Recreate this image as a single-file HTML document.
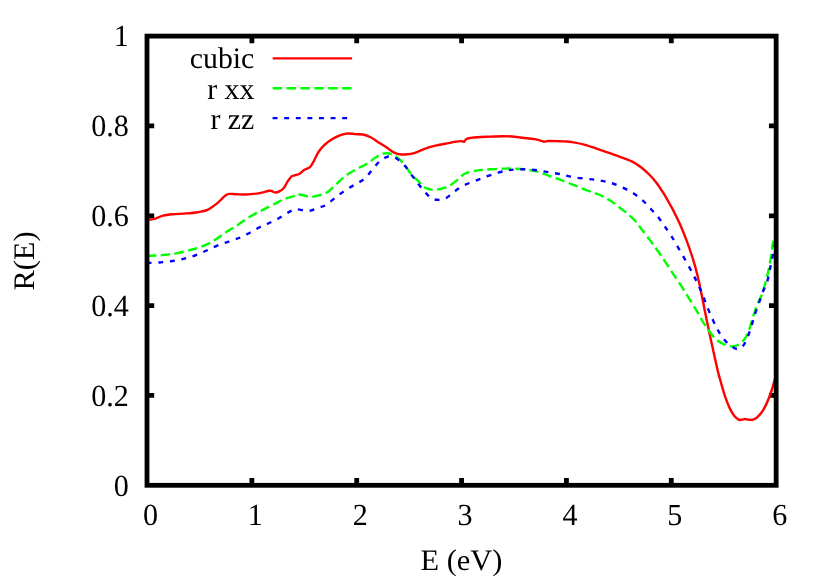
<!DOCTYPE html>
<html lang="en"><head><meta charset="utf-8"><title>R(E)</title>
<style>html,body{margin:0;padding:0;background:#fff;}svg{display:block;will-change:transform;}text{font-family:"Liberation Serif",serif;font-size:30.4px;fill:#000;text-rendering:geometricPrecision;}</style>
</head><body>
<svg width="830" height="581" viewBox="0 0 830 581">
<rect width="830" height="581" fill="#fff"/>
<path d="M251.86,485.30v-7.2M251.86,36.10v7.2M356.72,485.30v-7.2M356.72,36.10v7.2M461.57,485.30v-7.2M461.57,36.10v7.2M566.43,485.30v-7.2M566.43,36.10v7.2M671.29,485.30v-7.2M671.29,36.10v7.2M147.00,395.46h7.2M776.15,395.46h-7.2M147.00,305.62h7.2M776.15,305.62h-7.2M147.00,215.78h7.2M776.15,215.78h-7.2M147.00,125.94h7.2M776.15,125.94h-7.2" stroke="#000" stroke-width="4.8" fill="none"/>
<path d="M146.8,220.0C147.3,219.9 148.2,219.9 149.6,219.7C151.0,219.5 153.2,219.3 155.4,218.6C157.7,217.9 160.2,216.4 163.1,215.7C166.0,215.0 168.9,214.7 172.8,214.3C176.7,213.9 182.1,213.8 186.3,213.4C190.5,213.1 194.3,212.8 197.8,212.2C201.3,211.6 204.3,211.3 207.5,209.8C210.7,208.3 214.2,205.7 217.1,203.4C220.0,201.1 222.8,197.6 224.8,196.0C226.8,194.4 227.3,194.2 229.2,193.9C231.1,193.6 233.6,194.2 236.4,194.3C239.2,194.4 242.2,194.7 246.0,194.5C249.8,194.3 255.6,193.7 259.5,193.1C263.4,192.5 267.1,191.1 269.2,190.8C271.3,190.5 271.1,190.9 272.0,191.2C272.9,191.5 273.8,192.3 274.9,192.4C276.0,192.5 277.4,192.3 278.8,191.6C280.2,190.9 282.2,190.0 283.6,188.3C285.1,186.6 286.2,183.5 287.5,181.6C288.8,179.7 290.1,177.8 291.3,176.7C292.5,175.6 293.2,175.8 294.5,175.3C295.8,174.9 297.7,174.9 299.3,174.0C300.9,173.1 302.3,171.2 304.1,170.1C305.9,169.0 308.3,168.6 309.9,167.2C311.5,165.8 312.2,164.0 313.7,161.4C315.1,158.8 316.8,154.5 318.6,151.8C320.4,149.1 322.1,147.2 324.3,145.1C326.5,143.0 329.4,140.9 332.0,139.3C334.6,137.7 337.2,136.4 339.8,135.4C342.4,134.4 344.9,133.7 347.5,133.5C350.1,133.3 352.6,133.9 355.2,134.1C357.8,134.3 360.3,134.0 362.9,134.5C365.5,135.0 368.0,136.0 370.6,137.3C373.2,138.6 375.7,140.6 378.3,142.2C380.9,143.8 383.4,145.3 386.0,147.0C388.6,148.7 391.4,151.2 393.7,152.4C395.9,153.6 397.2,154.0 399.5,154.3C401.8,154.6 404.6,154.6 407.2,154.3C409.8,154.1 412.0,153.7 414.9,152.8C417.8,151.9 421.2,150.0 424.6,148.8C428.0,147.6 432.0,146.5 435.4,145.7C438.8,144.9 441.9,144.4 445.1,143.8C448.3,143.2 452.0,142.4 454.7,141.9C457.4,141.4 459.8,141.1 461.4,141.1C462.9,141.1 463.0,142.2 464.0,141.8C465.0,141.4 464.9,139.4 467.2,138.6C469.5,137.8 473.8,137.5 477.8,137.2C481.8,136.9 487.1,136.8 491.3,136.6C495.5,136.4 499.4,136.2 502.9,136.2C506.4,136.2 509.3,136.2 512.5,136.5C515.7,136.8 518.7,137.4 522.2,137.8C525.7,138.2 530.8,138.6 533.7,139.0C536.6,139.4 537.9,139.9 539.6,140.3C541.3,140.8 542.5,141.6 543.9,141.7C545.3,141.8 546.0,141.1 548.1,141.0C550.2,140.9 553.9,141.0 556.5,141.1C559.1,141.2 561.4,141.2 564.0,141.4C566.6,141.6 568.7,141.5 572.2,142.1C575.7,142.7 580.7,143.6 585.1,144.8C589.5,146.0 594.1,147.8 598.6,149.3C603.1,150.8 607.8,152.4 612.0,153.9C616.2,155.4 620.2,156.8 623.6,158.1C627.0,159.4 629.4,160.1 632.3,161.6C635.2,163.1 638.3,165.1 641.0,167.2C643.7,169.3 646.1,171.4 648.7,174.0C651.3,176.6 653.8,179.3 656.4,182.7C659.0,186.1 661.5,190.0 664.1,194.2C666.7,198.4 670.2,205.0 671.8,207.7C673.3,210.4 672.0,207.8 673.4,210.6C674.8,213.4 677.9,219.5 680.1,224.5C682.3,229.5 684.6,235.2 686.7,240.8C688.8,246.4 690.9,252.4 692.7,258.2C694.5,264.0 696.1,269.7 697.5,275.5C698.9,281.3 700.1,287.1 701.3,292.9C702.5,298.7 703.4,303.9 704.7,310.2C706.0,316.5 707.4,323.2 708.9,330.5C710.4,337.8 712.5,347.1 714.0,354.1C715.5,361.1 717.0,367.7 718.2,372.6C719.4,377.5 720.0,379.1 721.2,383.3C722.4,387.5 724.0,393.5 725.5,397.7C727.0,401.9 728.4,405.6 729.9,408.6C731.4,411.6 732.8,414.0 734.2,415.8C735.7,417.6 737.3,419.1 738.6,419.7C739.9,420.3 740.7,419.7 741.8,419.6C742.9,419.5 744.0,419.0 745.1,419.0C746.2,419.0 747.4,419.6 748.7,419.7C750.0,419.8 751.6,420.1 753.0,419.7C754.4,419.3 755.8,418.4 757.3,417.2C758.8,415.9 760.2,414.2 761.7,412.2C763.2,410.1 764.7,407.5 766.0,404.9C767.3,402.2 768.5,399.2 769.6,396.3C770.7,393.4 771.7,390.1 772.5,387.6C773.3,385.1 773.7,383.0 774.3,381.1C774.9,379.2 775.7,376.9 776.0,376.0" fill="none" stroke="#ff0000" stroke-width="2.4" stroke-linejoin="round"/>
<path d="M146.8,255.9C147.3,255.9 147.5,255.9 149.6,255.8C151.7,255.7 156.1,255.6 159.3,255.4C162.5,255.2 165.7,254.8 168.9,254.4C172.1,254.0 174.4,253.8 178.6,252.9C182.8,252.0 189.2,250.4 194.0,249.0C198.8,247.6 203.7,246.0 207.5,244.2C211.3,242.4 213.9,240.5 217.1,238.4C220.3,236.3 223.5,233.8 226.7,231.7C229.9,229.6 233.2,228.0 236.4,225.9C239.6,223.8 242.8,221.3 246.0,219.2C249.2,217.1 252.5,215.2 255.7,213.4C258.9,211.6 262.1,210.2 265.3,208.6C268.5,207.0 271.7,205.3 274.9,203.7C278.1,202.1 281.4,200.2 284.6,198.9C287.8,197.6 292.1,196.8 294.2,196.0C296.3,195.2 295.8,194.3 297.3,194.2C298.8,194.1 300.9,194.9 303.1,195.3C305.3,195.7 307.8,196.8 310.4,196.8C313.0,196.8 315.8,196.1 318.6,195.3C321.4,194.6 324.3,194.1 327.2,192.3C330.1,190.5 332.8,187.3 335.9,184.6C338.9,181.9 342.1,178.5 345.5,175.9C348.9,173.3 353.0,171.1 356.4,169.2C359.8,167.3 362.8,166.2 366.0,164.3C369.2,162.4 373.0,159.3 375.5,157.6C378.0,155.9 379.1,155.0 380.9,154.3C382.6,153.6 384.2,153.2 386.0,153.2C387.8,153.2 389.9,153.4 391.8,154.1C393.7,154.8 395.7,156.0 397.6,157.6C399.5,159.2 401.1,160.7 403.4,163.4C405.6,166.1 408.5,170.9 411.1,174.0C413.7,177.1 416.4,179.3 418.8,181.7C421.2,184.0 423.7,186.8 425.8,188.1C427.9,189.4 429.2,189.4 431.6,189.6C434.0,189.8 437.4,189.6 440.3,189.0C443.2,188.4 446.1,187.5 448.8,186.1C451.5,184.7 454.3,182.3 456.7,180.4C459.1,178.5 461.2,176.1 463.4,174.6C465.6,173.1 467.4,172.4 470.0,171.7C472.6,171.0 475.4,170.7 479.0,170.3C482.6,169.9 487.0,169.5 491.3,169.2C495.6,168.9 500.6,168.7 504.8,168.6C509.0,168.5 512.5,168.6 516.4,168.8C520.3,169.0 524.5,169.3 528.0,169.8C531.5,170.3 534.4,170.8 537.6,171.7C540.8,172.6 544.0,174.1 547.2,175.2C550.4,176.3 553.4,177.2 556.9,178.5C560.4,179.8 563.7,181.1 568.4,182.9C573.1,184.8 580.1,187.7 585.1,189.6C590.1,191.5 594.4,192.7 598.6,194.5C602.8,196.3 606.6,198.4 610.1,200.6C613.6,202.8 616.6,205.2 619.8,207.7C623.0,210.2 626.5,212.8 629.4,215.4C632.3,218.0 635.1,220.8 637.1,223.1C639.1,225.4 639.2,226.2 641.6,229.3C644.0,232.4 648.0,237.5 651.2,241.8C654.4,246.1 657.6,250.6 660.8,255.3C664.0,260.0 667.3,265.0 670.5,269.8C673.7,274.6 676.9,279.2 680.1,284.2C683.3,289.2 686.9,294.9 689.8,299.6C692.7,304.3 695.3,308.5 697.5,312.2C699.7,315.9 701.4,319.3 702.9,321.8C704.4,324.3 704.5,324.5 706.4,327.1C708.2,329.7 711.5,334.5 714.0,337.2C716.5,339.9 719.1,341.6 721.6,343.1C724.1,344.6 727.1,345.5 729.2,346.0C731.3,346.5 732.4,346.6 734.2,346.2C736.0,345.8 738.3,345.0 740.1,343.6C741.9,342.2 743.7,340.6 745.2,338.1C746.8,335.6 748.1,332.3 749.4,328.8C750.7,325.3 751.7,320.9 753.0,317.0C754.3,313.1 755.5,309.1 757.0,305.2C758.5,301.3 760.5,298.7 762.3,293.4C764.1,288.1 766.4,279.5 767.8,273.6C769.2,267.7 769.9,263.0 770.7,258.2C771.5,253.4 772.1,247.9 772.7,244.7C773.3,241.5 773.7,241.0 774.2,238.9C774.8,236.8 775.7,233.2 776.0,232.0" fill="none" stroke="#00ff00" stroke-width="2.4" stroke-dasharray="9.5 4.4" stroke-linejoin="round"/>
<path d="M146.8,263.0C147.3,263.0 147.5,263.0 149.6,262.9C151.7,262.8 155.8,262.8 159.3,262.5C162.8,262.2 167.0,261.8 170.8,261.2C174.7,260.6 178.5,260.0 182.4,259.1C186.3,258.2 190.2,257.2 194.0,255.8C197.8,254.5 201.7,252.7 205.5,251.0C209.3,249.3 213.2,247.2 217.1,245.6C221.0,244.0 224.8,243.0 228.7,241.7C232.5,240.3 236.7,239.0 240.2,237.5C243.7,236.0 246.7,234.4 249.9,232.7C253.1,231.0 256.3,228.9 259.5,227.3C262.7,225.7 266.0,224.5 269.2,223.0C272.4,221.5 275.6,220.0 278.8,218.2C282.0,216.4 285.5,213.9 288.4,212.4C291.3,210.9 292.7,209.6 296.1,209.3C299.5,209.1 305.1,211.2 308.9,210.9C312.6,210.6 315.7,208.7 318.6,207.7C321.5,206.7 323.4,206.6 326.3,204.8C329.2,203.0 332.8,199.5 335.9,197.1C339.0,194.7 342.0,192.5 345.1,190.4C348.2,188.3 351.6,186.5 354.8,184.6C358.0,182.7 361.5,181.2 364.4,178.8C367.3,176.4 369.5,173.0 372.0,170.1C374.5,167.2 377.1,163.6 379.5,161.4C381.9,159.2 384.4,158.0 386.3,157.2C388.2,156.4 389.1,156.4 390.8,156.6C392.5,156.8 394.2,157.0 396.6,158.6C399.0,160.2 402.6,163.2 405.3,166.3C408.0,169.4 410.8,173.9 413.0,176.9C415.2,179.9 416.7,181.9 418.8,184.6C420.9,187.3 423.7,190.6 425.8,192.9C427.9,195.2 429.7,197.2 431.6,198.3C433.5,199.5 435.1,199.7 437.3,199.8C439.6,199.9 442.5,199.8 445.1,198.7C447.7,197.5 449.9,195.0 452.8,192.9C455.7,190.8 458.7,188.1 462.4,186.1C466.1,184.1 471.0,182.5 475.0,180.9C479.0,179.3 482.7,177.9 486.6,176.5C490.5,175.1 494.7,173.7 498.2,172.7C501.7,171.7 504.7,170.9 507.7,170.3C510.7,169.8 513.0,169.6 516.4,169.4C519.8,169.2 524.1,169.2 528.0,169.4C531.9,169.6 535.6,170.1 539.5,170.7C543.4,171.2 547.2,172.0 551.1,172.7C555.0,173.3 559.0,173.8 562.7,174.6C566.4,175.4 569.5,176.6 573.5,177.3C577.5,178.0 582.8,178.3 587.0,178.8C591.2,179.3 594.8,179.7 598.6,180.3C602.5,181.0 606.2,181.6 610.1,182.7C614.0,183.8 617.8,185.3 621.7,187.1C625.6,188.9 629.8,191.1 633.3,193.3C636.8,195.6 640.0,198.0 642.9,200.6C645.8,203.2 648.0,205.9 650.6,208.7C653.2,211.5 655.9,214.4 658.3,217.3C660.6,220.2 662.5,223.3 664.7,226.4C666.9,229.5 669.1,232.5 671.4,236.0C673.6,239.5 675.8,243.4 678.2,247.6C680.6,251.8 683.5,256.8 685.9,261.1C688.3,265.4 690.8,269.9 692.7,273.6C694.6,277.3 695.9,279.9 697.5,283.3C699.1,286.7 700.7,290.0 702.3,293.9C703.9,297.8 705.4,302.5 707.2,306.9C709.0,311.3 711.1,316.2 713.1,320.4C715.1,324.6 716.9,328.7 719.0,332.2C721.1,335.7 723.7,339.0 725.8,341.4C727.9,343.8 729.7,345.2 731.7,346.5C733.7,347.8 735.8,349.0 737.6,349.0C739.4,349.0 741.1,348.2 742.6,346.5C744.1,344.8 745.5,342.1 746.9,338.9C748.3,335.7 749.8,331.0 751.1,327.1C752.4,323.2 753.3,319.2 754.6,315.3C755.9,311.4 757.5,307.2 758.8,303.5C760.1,299.8 761.0,296.6 762.4,292.9C763.8,289.2 766.1,285.1 767.3,281.3C768.5,277.5 769.0,273.7 769.8,269.8C770.6,265.9 771.3,263.2 772.3,258.2C773.3,253.2 775.4,243.0 776.0,240.0" fill="none" stroke="#0000ff" stroke-width="2.4" stroke-dasharray="4.9 6.7" stroke-linejoin="round"/>
<rect x="147.0" y="36.1" width="629.15" height="449.20" fill="none" stroke="#000" stroke-width="4.8"/>
<path d="M272.7,58.4H352.1" stroke="#ff0000" stroke-width="2.4"/>
<path d="M272.6,88.2H352.1" stroke="#00ff00" stroke-width="2.4" stroke-dasharray="9.5 4.4"/>
<path d="M272.6,118.1H352.1" stroke="#0000ff" stroke-width="2.4" stroke-dasharray="4.9 6.7"/>
<text transform="translate(254.30,68.40) scale(0.98,0.98)" text-anchor="end">cubic</text>
<text transform="translate(254.30,99.00) scale(0.98,0.98)" text-anchor="end">r xx</text>
<text transform="translate(254.30,128.70) scale(0.98,0.98)" text-anchor="end">r zz</text>
<text transform="translate(128.90,495.50) scale(0.99,1.01)" text-anchor="end">0</text>
<text transform="translate(128.90,405.66) scale(0.99,1.01)" text-anchor="end">0.2</text>
<text transform="translate(128.90,315.82) scale(0.99,1.01)" text-anchor="end">0.4</text>
<text transform="translate(128.90,225.98) scale(0.99,1.01)" text-anchor="end">0.6</text>
<text transform="translate(128.90,136.14) scale(0.99,1.01)" text-anchor="end">0.8</text>
<text transform="translate(128.90,46.30) scale(0.99,1.01)" text-anchor="end">1</text>
<text transform="translate(150.50,525.40) scale(0.99,1.01)" text-anchor="middle">0</text>
<text transform="translate(255.36,525.40) scale(0.99,1.01)" text-anchor="middle">1</text>
<text transform="translate(360.22,525.40) scale(0.99,1.01)" text-anchor="middle">2</text>
<text transform="translate(465.07,525.40) scale(0.99,1.01)" text-anchor="middle">3</text>
<text transform="translate(569.93,525.40) scale(0.99,1.01)" text-anchor="middle">4</text>
<text transform="translate(674.79,525.40) scale(0.99,1.01)" text-anchor="middle">5</text>
<text transform="translate(779.65,525.40) scale(0.99,1.01)" text-anchor="middle">6</text>
<text transform="translate(461.40,569.60) scale(1.0,0.98)" text-anchor="middle">E (eV)</text>
<text transform="translate(34.40,261.00) rotate(-90) scale(1.0,0.98)" text-anchor="middle">R(E)</text>
</svg></body></html>
